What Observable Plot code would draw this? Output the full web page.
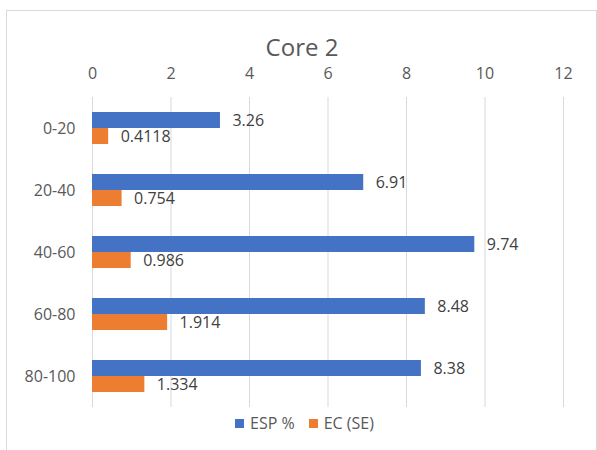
<!DOCTYPE html>
<html>
<head>
<meta charset="utf-8">
<script src="https://cdn.jsdelivr.net/npm/d3@7"></script>
<script src="https://cdn.jsdelivr.net/npm/@observablehq/plot@0.6"></script>
<style>
  html, body { margin: 0; padding: 0; background: #fff; }
  body { width: 597px; height: 450px; position: relative; overflow: hidden; font-family: "Open Sans", sans-serif; }
  #frame { position: absolute; left: 6px; top: 10px; width: 589px; height: 460px;
           border: 1px solid #d9d9d9; border-bottom: none; }
  #title { position: absolute; left: 0; top: 33px; width: 604px; text-align: center;
           font-size: 24px; line-height: 28px; color: #595959; }
  #chart { position: absolute; left: 0; top: 0; }
  #legend { position: absolute; left: 235px; top: 412px; display: flex; align-items: center;
            font-size: 16px; color: #595959; }
  #legend .item { display: flex; align-items: center; margin-right: 14px; }
  #legend .swatch { width: 9px; height: 9px; margin-right: 6px; }
</style>
</head>
<body>
<div id="frame"></div>
<div id="chart"></div>
<div id="title">Core 2</div>
<div id="legend"></div>
<script>
// Depth intervals (cm) and the two measured series
const categories = ["0-20", "20-40", "40-60", "60-80", "80-100"];
const seriesNames = ["ESP %", "EC (SE)"];
const espValues = [3.26, 6.91, 9.74, 8.48, 8.38];
const ecValues = [0.4118, 0.754, 0.986, 1.914, 1.334];
const xTicks = [0, 2, 4, 6, 8, 10, 12];
const seriesColors = ["#4472C4", "#ED7D31"];

// Long table: one row per depth interval and series
const rows = categories.flatMap((cat, i) => [
  {cat, series: seriesNames[0], value: espValues[i]},
  {cat, series: seriesNames[1], value: ecValues[i]}
]);

const chart = Plot.plot({
  width: 597,
  height: 420,
  marginLeft: 92,
  marginRight: 34,
  marginTop: 95,
  marginBottom: 12,
  style: {fontFamily: "Open Sans, sans-serif", fontSize: "16px", color: "#595959", background: "transparent"},
  x: {domain: [0, 12], axis: null},
  fy: {domain: categories, padding: 0, label: null, tickSize: 0, tickPadding: 17},
  y: {domain: seriesNames, axis: null, paddingInner: 0, paddingOuter: 0.9},
  color: {domain: seriesNames, range: seriesColors},
  marks: [
    Plot.gridX(xTicks, {stroke: "#d9d9d9", strokeOpacity: 1, strokeWidth: 1}),
    Plot.axisX({anchor: "top", ticks: xTicks, tickSize: 0, tickPadding: 19, label: null, fill: "#595959"}),
    Plot.barX(rows, {fy: "cat", y: "series", x: "value", fill: "series"}),
    Plot.text(rows, {fy: "cat", y: "series", x: "value", text: d => String(d.value),
                     dx: 12, textAnchor: "start", fill: "#404040", fontSize: 16})
  ]
});
document.getElementById("chart").appendChild(chart);

// Legend below the plot
const legend = document.getElementById("legend");
seriesNames.forEach((name, i) => {
  const item = document.createElement("div");
  item.className = "item";
  const sw = document.createElement("span");
  sw.className = "swatch";
  sw.style.background = seriesColors[i];
  const label = document.createElement("span");
  label.textContent = name;
  item.appendChild(sw);
  item.appendChild(label);
  legend.appendChild(item);
});
</script>
</body>
</html>
